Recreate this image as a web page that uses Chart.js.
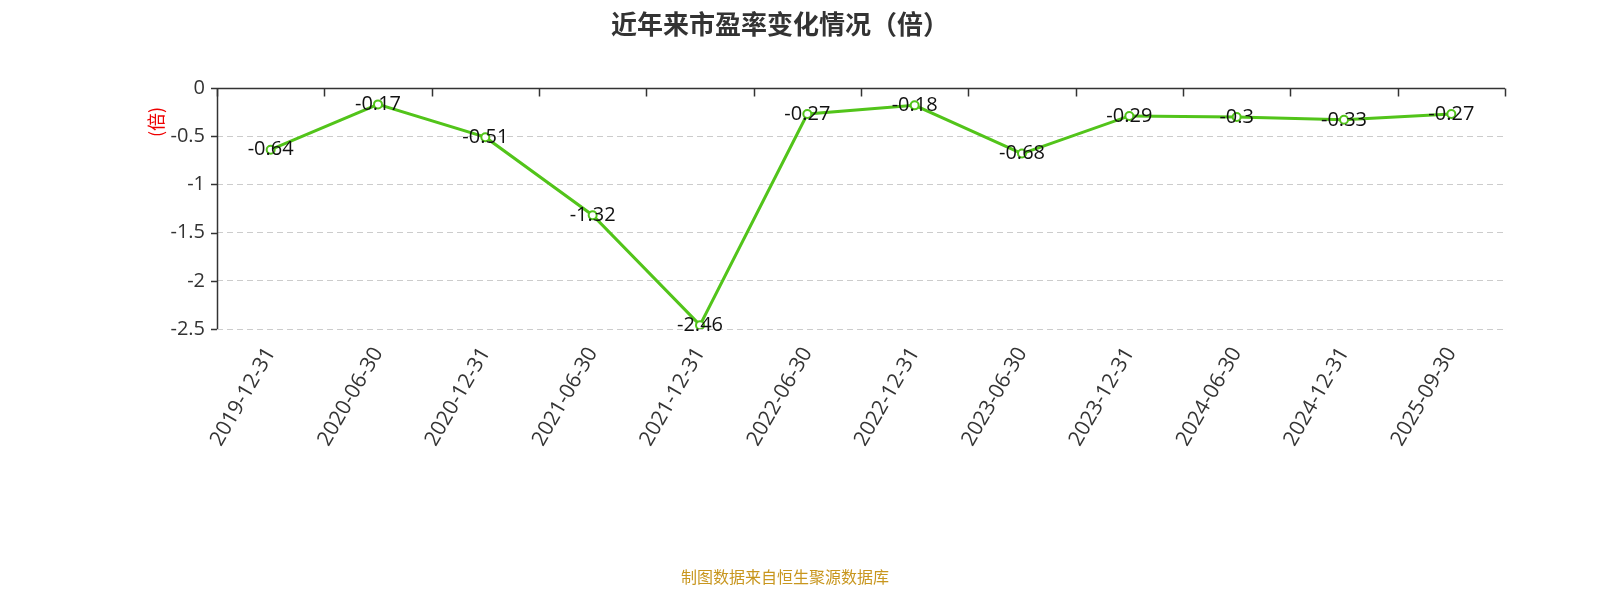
<!DOCTYPE html>
<html><head><meta charset="utf-8">
<script src="https://cdn.jsdelivr.net/npm/chart.js@4/dist/chart.umd.min.js"></script>
<style>html,body{margin:0;padding:0;background:#fff}#w{width:1600px;height:600px}</style>
</head><body><div id="w"><canvas id="c" width="1600" height="600"></canvas></div>
<script>
const categories=["2019-12-31","2020-06-30","2020-12-31","2021-06-30","2021-12-31","2022-06-30","2022-12-31","2023-06-30","2023-12-31","2024-06-30","2024-12-31","2025-09-30"];
const peValues=[-0.64,-0.17,-0.51,-1.32,-2.46,-0.27,-0.18,-0.68,-0.29,-0.3,-0.33,-0.27];
const titleText="近年来市盈率变化情况（倍）";
const unitText="(倍)";
const sourceText="制图数据来自恒生聚源数据库";
const FONT="'Open Sans','Noto Sans CJK SC',sans-serif";
const CJK="'Noto Sans CJK SC',sans-serif";
const deco={id:'deco',
 afterDraw(ch){const c=ch.ctx,x=ch.scales.x,y=ch.scales.y,a=ch.chartArea;
  c.save();
  c.fillStyle='#333';c.font='bold 26px '+CJK;c.textAlign='center';c.textBaseline='middle';
  c.fillText(titleText,780,24);
  c.fillStyle='#c8961e';c.font='16px '+CJK;c.fillText(sourceText,785,577);
  c.save();c.translate(156,122);c.rotate(-Math.PI/2);c.fillStyle='#e00';c.font='18px '+CJK;c.fillText(unitText,0,0);c.restore();
  c.strokeStyle='#333';c.lineWidth=1.5;
  const y0=Math.round(y.getPixelForValue(0))+0.5;
  c.beginPath();c.moveTo(a.left,y0);c.lineTo(a.right,y0);c.stroke();
  const w=(a.right-a.left)/categories.length;
  for(let i=0;i<=categories.length;i++){const px=Math.round(a.left+i*w)+0.5;c.beginPath();c.moveTo(px,y0);c.lineTo(px,y0+8);c.stroke();}
  c.beginPath();c.moveTo(a.left+0.5,a.top);c.lineTo(a.left+0.5,a.bottom);c.stroke();
  y.ticks.forEach(t=>{const py=Math.round(y.getPixelForValue(t.value))+0.5;c.beginPath();c.moveTo(a.left-6,py);c.lineTo(a.left,py);c.stroke();});
  const m=ch.getDatasetMeta(0);c.fillStyle='#111';c.font='20px '+FONT;
  m.data.forEach((p,i)=>c.fillText(String(peValues[i]),p.x,p.y));
  c.restore();}};
new Chart(document.getElementById('c'),{type:'line',
 data:{labels:categories,datasets:[{data:peValues,borderColor:'#52c41a',borderWidth:3,pointRadius:4,pointBorderWidth:2,pointBackgroundColor:'#fff',pointBorderColor:'#52c41a',tension:0}]},
 options:{responsive:false,animation:false,
  layout:{padding:{top:88,right:95,left:0,bottom:0}},
  plugins:{legend:{display:false},tooltip:{enabled:false}},
  scales:{
   x:{offset:true,grid:{display:false},border:{display:false},
      ticks:{color:'#333',font:{size:21,family:FONT},maxRotation:60,minRotation:60,padding:6},
      afterFit(s){s.height=271;}},
   y:{min:-2.5,max:0,grid:{color:c=>c.tick.value===0?'rgba(0,0,0,0)':'#ccc',drawTicks:false},border:{display:false,dash:[6,4]},
      ticks:{stepSize:0.5,color:'#333',font:{size:20,family:FONT},padding:12,callback:v=>String(v)},
      afterFit(s){s.width=217;}}
  }},
 plugins:[deco]});
</script></body></html>
